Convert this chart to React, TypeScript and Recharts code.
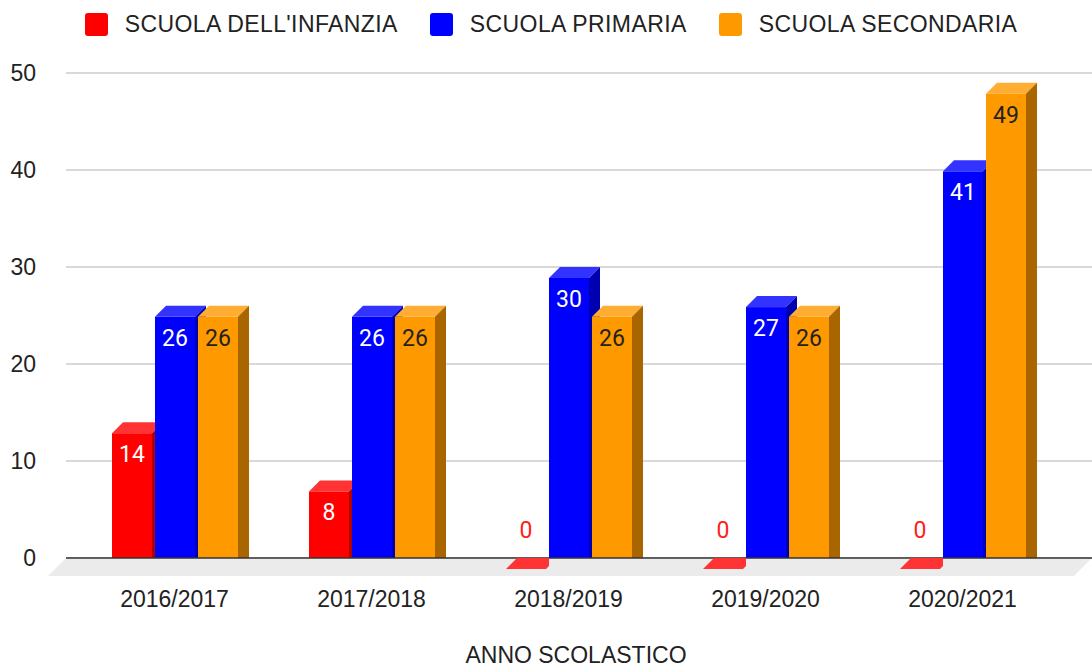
import React from 'react';
import { BarChart, Bar, XAxis, YAxis, CartesianGrid, Legend, LabelList, ReferenceLine } from 'recharts';

const years = ['2016/2017', '2017/2018', '2018/2019', '2019/2020', '2020/2021'];
const infanzia = [14, 8, 0, 0, 0];
const primaria = [26, 26, 30, 27, 41];
const secondaria = [26, 26, 26, 26, 49];
const yTicks = [0, 10, 20, 30, 40, 50];

const series = [
  { key: 'infanzia', name: "SCUOLA DELL'INFANZIA", front: '#ff0000', top: '#ff3333', side: '#b00000', label: '#ffffff', zero: '#ff2020' },
  { key: 'primaria', name: 'SCUOLA PRIMARIA', front: '#0000ff', top: '#3333ff', side: '#0000b0', label: '#ffffff', zero: '#2020ff' },
  { key: 'secondaria', name: 'SCUOLA SECONDARIA', front: '#ff9900', top: '#ffad33', side: '#a86500', label: '#222222', zero: '#ff9900' },
];

const data = years.map((year, i) => ({
  year,
  infanzia: infanzia[i],
  primaria: primaria[i],
  secondaria: secondaria[i],
}));

const DEPTH = 11;
const FLOOR = 18;
const BAR_GAP = 3;
const AXIS_FONT = '"Liberation Sans", Arial, sans-serif';
const LABEL_FONT = 'Roboto, "Liberation Sans", sans-serif';

const topFace = (x: number, y: number, w: number, fill: string) => (
  <polygon points={`${x},${y + DEPTH} ${x + DEPTH},${y} ${x + w + DEPTH},${y} ${x + w},${y + DEPTH}`} fill={fill} />
);

// draws a bar with front, top and side faces
const make3DBar = (s: any) => (props: any) => {
  const { x, y, width: w, height } = props;
  const h = Math.max(0, height || 0);
  const d = DEPTH;
  if (h === 0) return <g />;
  return (
    <g>
      <rect x={x} y={y + d} width={w} height={h} fill={s.front} />
      {topFace(x, y, w, s.top)}
      <polygon points={`${x + w},${y + d} ${x + w + d},${y} ${x + w + d},${y + h} ${x + w},${y + h + d}`} fill={s.side} />
    </g>
  );
};

// value labels; a zero bar is only its flat top face on the floor,
// cut where the next bar's front face starts
const makeLabel = (s: any) => (props: any) => {
  const { x, y, width: w, value } = props;
  const cx = x + w / 2;
  if (!value) {
    const cut = DEPTH - BAR_GAP;
    return (
      <g>
        <polygon
          points={`${x},${y + DEPTH} ${x + DEPTH},${y} ${x + w + BAR_GAP},${y} ${x + w + BAR_GAP},${y + cut} ${x + w},${y + DEPTH}`}
          fill={s.top}
        />
        <text x={cx} y={y + DEPTH - 31} textAnchor="middle" fill={s.zero} fontSize={23} fontFamily={LABEL_FONT}>
          {value}
        </text>
      </g>
    );
  }
  return (
    <text x={cx} y={y + DEPTH + 29} textAnchor="middle" fill={s.label} fontSize={23} fontFamily={LABEL_FONT}>
      {value}
    </text>
  );
};

const Floor = (props: any) => {
  const { x1, y1, x2 } = props;
  return (
    <g>
      <polygon points={`${x1},${y1} ${x2},${y1} ${x2 - FLOOR},${y1 + FLOOR} ${x1 - FLOOR},${y1 + FLOOR}`} fill="#ebebeb" />
      <line x1={x1} y1={y1} x2={x2} y2={y1} stroke="#333333" strokeWidth={1.5} />
    </g>
  );
};

const XTick = (props: any) => {
  const { x, y, payload } = props;
  return (
    <text x={x} y={y + 49} textAnchor="middle" fill="#222222" fontSize={23} fontFamily={AXIS_FONT}>
      {payload.value}
    </text>
  );
};

const YTick = (props: any) => {
  const { x, y, payload } = props;
  return (
    <text x={x} y={y + 8} textAnchor="end" fill="#222222" fontSize={23} fontFamily={AXIS_FONT}>
      {payload.value}
    </text>
  );
};

const XTitle = (props: any) => {
  const { viewBox } = props;
  return (
    <text x={viewBox.x + viewBox.width / 2 - 3} y={viewBox.y + 105} textAnchor="middle" fill="#222222" fontSize={23} fontFamily={AXIS_FONT}>
      ANNO SCOLASTICO
    </text>
  );
};

const LegendBox = () => (
  <div style={{ display: 'flex', justifyContent: 'center', alignItems: 'center', height: 48, paddingLeft: 10, fontFamily: AXIS_FONT, fontSize: 23, letterSpacing: 0.4, color: '#222222' }}>
    {series.map((s, i) => (
      <div key={s.key} style={{ display: 'flex', alignItems: 'center', marginLeft: i === 0 ? 0 : 32 }}>
        <span style={{ width: 23, height: 23, borderRadius: 3, background: s.front, marginRight: 17, display: 'inline-block' }} />
        <span>{s.name}</span>
      </div>
    ))}
  </div>
);

export default function App() {
  return (
    <div style={{ position: 'absolute', left: 0, top: 0, background: '#ffffff' }}>
      <BarChart width={1092} height={668} data={data} margin={{ top: 25, right: 0, bottom: 0, left: 0 }} barSize={40} barGap={BAR_GAP}>
        <Legend verticalAlign="top" content={<LegendBox />} wrapperStyle={{ top: 0, left: 0, width: 1092 }} height={48} />
        <CartesianGrid vertical={false} stroke="#cccccc" strokeWidth={1.5} />
        <XAxis dataKey="year" padding={{ left: 10, right: 31 }} tickLine={false} axisLine={false} tickSize={0} tickMargin={0} tick={<XTick />} height={110} interval={0} label={<XTitle />} />
        <YAxis domain={[0, 50]} ticks={yTicks} width={66} tickLine={false} axisLine={false} tickSize={0} tickMargin={30} tick={<YTick />} />
        <ReferenceLine y={0} shape={<Floor />} />
        {series.map((s) => (
          <Bar key={s.key} dataKey={s.key} name={s.name} fill={s.front} shape={make3DBar(s)} isAnimationActive={false}>
            <LabelList dataKey={s.key} content={makeLabel(s)} />
          </Bar>
        ))}
      </BarChart>
    </div>
  );
}
